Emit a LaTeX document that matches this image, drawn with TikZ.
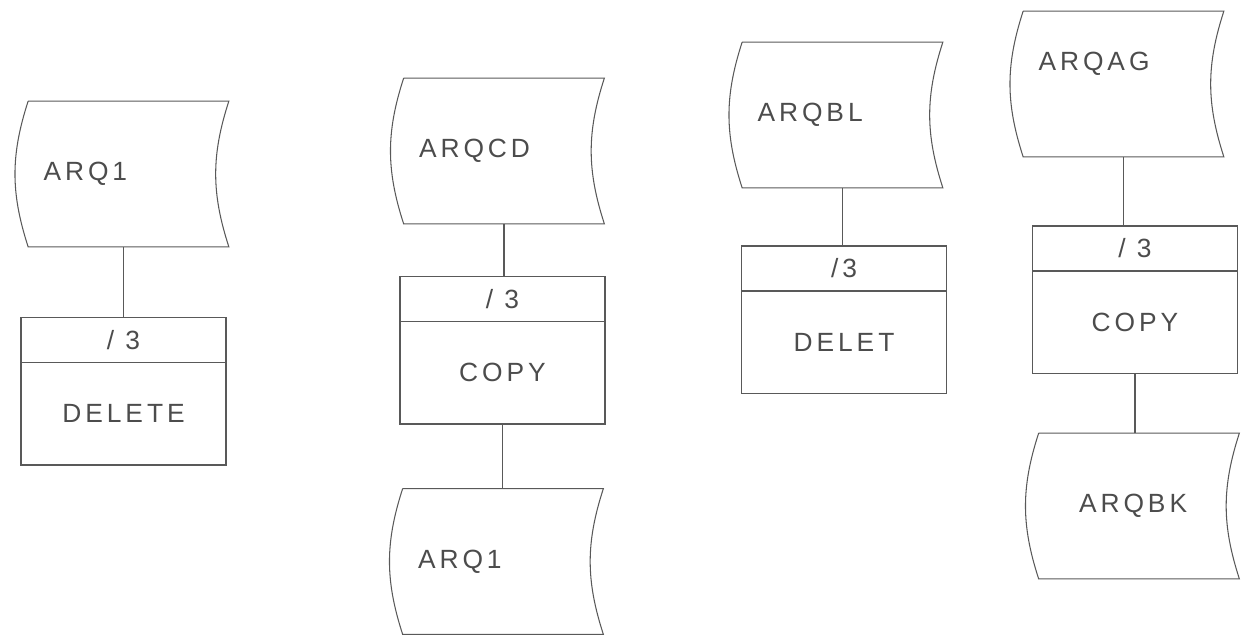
\documentclass[tikz,border=0pt]{standalone}
\usepackage{fontspec}
\setmainfont{Liberation Sans}
\usetikzlibrary{positioning}
\newcommand{\handfont}{\fontsize{15}{18}\selectfont\addfontfeatures{LetterSpace=15}}

\begin{document}
\begin{tikzpicture}[
        line/.style={draw=black!65, line width=0.6pt},
        file/.style={minimum width=4cm, minimum height=2.9cm, inner sep=0pt, text width=3.4cm, align=left, font=\handfont, text=black!70},
        head/.style={line, minimum width=4.1cm, minimum height=0.9cm, inner sep=0pt, outer sep=0pt, font=\handfont, text=black!70},
        body/.style={line, minimum width=4.1cm, minimum height=2.05cm, inner sep=0pt, outer sep=0pt, font=\handfont, text=black!70}
    ]
        \useasboundingbox (0,0) rectangle (24.84,12.7);

        % files
        \node[file] (f1) at (2.57,9.22) {ARQ1};
        \node[file] (f2) at (10.08,9.68) {ARQCD};
        \node[file] (f3) at (10.06,1.47) {ARQ1};
        \node[file] (f4) at (16.85,10.4) {ARQBL};
        \node[file, text depth=0.9cm] (f5) at (22.47,11.02) {ARQAG};
        \node[file] (f6) at (22.78,2.58) {\hspace*{0.5cm}ARQBK};
        \foreach \f in {f1,f2,f3,f4,f5,f6}
            \draw[line] (\f.north west) -- (\f.north east) to[bend right=18] (\f.south east)
                -- (\f.south west) to[bend left=18] (\f.north west);

        % steps
        \node[head] (p1h) at (2.47,5.9) {/ 3};
        \node[body, below=0pt of p1h] (p1) {DELETE};
        \node[head] (p2h) at (10.05,6.72) {/ 3};
        \node[body, below=0pt of p2h] (p2) {COPY};
        \node[head] (p3h) at (16.88,7.33) {/3};
        \node[body, below=0pt of p3h] (p3) {DELET};
        \node[head] (p4h) at (22.7,7.73) {/ 3};
        \node[body, below=0pt of p4h] (p4) {COPY};

        \draw[line] (p1h.north) -- (p1h.north |- f1.south);
        \draw[line] (f2.south) -- (f2.south |- p2h.north);
        \draw[line] (p2.south) -- (p2.south |- f3.north);
        \draw[line] (f4.south) -- (f4.south |- p3h.north);
        \draw[line] (f5.south) -- (f5.south |- p4h.north);
        \draw[line] (p4.south) -- (p4.south |- f6.north);
    \end{tikzpicture}
\end{document}
